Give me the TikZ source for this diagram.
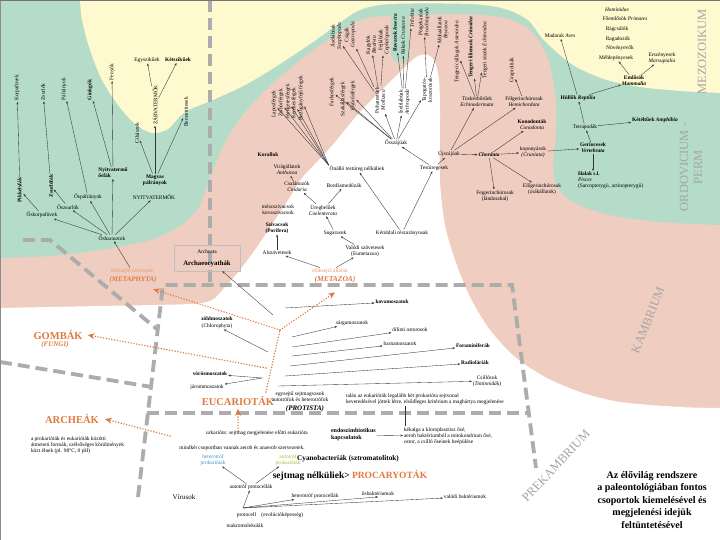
\documentclass[tikz,border=0pt]{standalone}
\usepackage{fontspec}
\setmainfont{Liberation Serif}
\usetikzlibrary{arrows.meta}
\definecolor{pinkc}{RGB}{239,205,192}
\definecolor{greenc}{RGB}{180,220,200}
\definecolor{yellowc}{RGB}{254,249,206}
\definecolor{dgray}{RGB}{172,172,172}
\definecolor{erag}{RGB}{165,165,165}
\definecolor{orangec}{RGB}{222,122,62}
\definecolor{orangel}{RGB}{232,150,105}
\definecolor{bluec}{RGB}{60,150,205}
\definecolor{ygreen}{RGB}{165,190,50}
\begin{document}
\begin{tikzpicture}[x=1pt,y=-1pt,
  lab/.style={font=\fontsize{5.4}{6.1}\selectfont, inner sep=0.8pt, align=center},
  labb/.style={lab, font=\fontsize{5.4}{6.1}\selectfont\bfseries},
  vlab/.style={lab, rotate=90},
  vlabb/.style={labb, rotate=90},
  ar/.style={-{Stealth[length=2.6pt,width=2pt]}, line width=0.35pt, draw=black!80},
  ln/.style={line width=0.35pt, draw=black!80},
  dsh/.style={draw=dgray, line width=3.8pt, dash pattern=on 12pt off 6pt},
  odot/.style={draw=orangec, line width=1.6pt, line cap=round, dash pattern=on 0pt off 2.8pt},
  otip/.style={-{Stealth[length=7pt,width=6pt,inset=2.5pt]}},
  big/.style={font=\fontsize{10.5}{12}\selectfont\bfseries, text=orangec, inner sep=1pt},
  era/.style={font=\fontsize{12.5}{14}\selectfont, text=erag, inner sep=0pt, align=center},
]
\useasboundingbox (0,0) rectangle (720,540);
% ---------- background regions ----------
\fill[pinkc] (0,0) rectangle (720,540);
\fill[greenc] (0,0) -- (720,0) -- plot[smooth] coordinates {(720,225) (660,222) (610,215) (575,203) (558,188) (553,165) (556,135) (556,100) (550,65) (540,42) (525,26) (500,17) (460,14) (420,15) (385,16) (360,20) (330,38) (300,60) (270,86) (245,112) (225,142) (210,178) (198,208) (180,226) (150,240) (100,250) (50,256) (0,258)} -- cycle;
\fill[yellowc] plot[smooth] coordinates {(80,0) (82,20) (90,50) (102,80) (118,105) (135,124) (152,133) (168,129) (185,112) (213,100) (247,84) (280,64) (313,42) (338,24) (360,10) (390,4) (470,4) (505,9) (528,20) (542,38) (560,55) (578,68) (607,80) (640,87) (680,91) (720,93)} -- (720,0) -- cycle;
\fill[white] plot[smooth] coordinates {(0,308) (100,306) (190,304) (212,300) (225,287) (240,270) (257,247) (273,223) (290,197) (302,178) (330,148) (360,112) (390,82) (408,64) (418,56) (428,55) (435,62) (439,80) (440,110) (440,180) (445,225) (455,260) (470,297) (490,330) (515,357) (545,377) (580,392) (620,402) (680,407) (720,408)} -- (720,540) -- (0,540) -- cycle;
\fill[greenc, rounded corners=5pt] (391,6) -- (391,61) -- (409,62) -- (409,6) -- cycle;
% ---------- grey dashed borders ----------
\draw[dsh] (210,0) -- (210,283);
\draw[dsh] (138,497) -- (163,285) -- (512,285) -- (536,468);
\draw[dsh] (147,413) -- (527,413);
\draw[dsh] (23,240) -- (50,240) -- (158,330);
\draw[dsh] (0,362) -- (152,387);
% ---------- era labels ----------
\node[era, rotate=90] (mezo) at (702,52) {MEZOZOIKUM};
\node[era, rotate=90] (ordo) at (691,167) {ORDOVICIUM -\\PERM};
\node[era, rotate=68] (kamb) at (648,320) {KAMBRIUM};
\node[era, rotate=47] (prek) at (556,466) {PREKAMBRIUM};
% ---------- plants ----------
\node[vlab] (korpa) at (17,88) {Korpafüvek};
\node[vlab] (zsurlo) at (43,92) {Zsurlók};
\node[vlab] (pafr) at (64,89) {Páfrányok};
\node[vlabb] (ginkgo) at (90,90) {Ginkgók};
\node[vlab] (fenyo) at (112,72) {Fenyők};
\node[lab] (egysz) at (147,60) {Egyszikűek};
\node[labb] (ketsz) at (178,60) {Kétszikűek};
\node[vlab] (zarv) at (155,105) {ZÁRVATERMŐK};
\node[vlab] (cikasz) at (137,133) {Cikászok};
\node[vlab] (benett) at (186,112) {Bennettitesek};
\node[labb, align=left] (nyosfa) at (113,173) {Nyitvatermő\\ősfák};
\node[labb] (magvas) at (155,180) {Magvas\\páfrányok};
\node[lab] (nyitv) at (154,197) {NYITVATERMŐK};
\node[vlabb] (pikk) at (20,190) {Pikkelyfák};
\node[vlabb] (zsurfa) at (51,186) {Zsurlófák};
\node[lab] (ospafr) at (88,197) {Őspáfrányok};
\node[lab] (oszsurl) at (68,207) {Őszsurlók};
\node[lab] (oskorpa) at (42,215) {Őskorpafüvek};
\node[lab] (oshar) at (112,238) {Ősharasztok};
\node[lab, text=orangel] (tsnov) at (132,271) {többsejtű növények};
\node[font=\fontsize{7}{8}\selectfont\bfseries\itshape, text=orangec, inner sep=0.8pt] (metaph) at (133,280) {(METAPHYTA)};
\draw[ar] (pikk) -- (korpa);
\draw[ar] (zsurfa) -- (zsurlo);
\draw[ar] (ospafr) -- (pafr);
\draw[ar] (nyosfa) -- (ginkgo);
\draw[ar] (nyosfa) -- (fenyo);
\draw[ar] (magvas) -- (cikasz);
\draw[ar] (magvas) -- (zarv);
\draw[ar] (magvas) -- (benett);
\draw[ar] (zarv) -- (egysz);
\draw[ar] (zarv) -- (ketsz);
\draw[ar] (oskorpa) -- (pikk);
\draw[ar] (oszsurl) -- (zsurfa);
\draw[ar] (oshar) -- (oskorpa);
\draw[ar] (oshar) -- (oszsurl);
\draw[ar] (oshar) -- (ospafr);
\draw[ar] (oshar) -- (nyosfa);
\draw[ar] (oshar) -- (nyitv);
\draw[ar] (tsnov) -- (oshar);
% ---------- acoelomates, protostomes ----------
\node[vlab] (lapos) at (274,104) {Laposférgek};
\node[vlab] (zsinor) at (281,103) {Zsinórférgek};
\node[vlab] (hengeres) at (288,101) {Hengeresférgek};
\node[vlab] (kerekes) at (294,103) {Kerekesférgek};
\node[vlab] (buzog) at (301,98) {Buzogányfejű férgek};
\node[lab] (onallo) at (357,169) {Önálló testüreg nélküliek};
\foreach \n in {lapos,zsinor,hengeres,kerekes,buzog} {\draw[ar] (onallo.north west) -- (\n);}
\node[vlab] (farkos) at (332,92) {Farkosférgek};
\node[vlab] (szakall) at (343,99) {Szakállasférgek};
\node[vlab] (gyuru) at (353,96) {Gyűrűsférgek};
\node[vlab] (asolab) at (336,36) {Ásólábúak\\\textit{Scaphopoda}};
\node[vlab] (csiga) at (350,35) {Csigák\\\textit{Gastropoda}};
\node[vlab] (kagylo) at (371,45) {Kagylók\\\textit{Bivalvia}};
\node[vlab] (fejlab) at (384,40) {Fejlábúak\\\textit{Cephalopoda}};
\node[vlabb] (rovar) at (395,33) {Rovarok \textit{Insecta}};
\node[vlab] (rakok) at (403,36) {Rákok \textit{Crustacea}};
\node[vlab] (trilob) at (412,18) {\textit{Trilobita}};
\node[vlab] (porgek) at (424,22) {Pörgekarúak\\\textit{Brachiopoda}};
\node[vlab] (moha) at (443,30) {Mohaállatok\\\textit{Bryozoa}};
\node[vlab] (puhat) at (380,100) {Puhatestűek\\\textit{Mollusca}};
\node[vlab] (izelt) at (404,102) {Ízeltlábúak\\\textit{Arthropoda}};
\node[vlab] (tapog) at (427,90) {Tapogatós-\\koszorúsak};
\node[lab] (osszaj) at (396,143) {Ősszájúak};
\node[lab] (testur) at (434,168) {Testüregesek};
\node[lab] (ujszaj) at (449,154) {Újszájúak};
\node[lab, font=\fontsize{5.4}{6.1}\selectfont\bfseries\itshape] (chord) at (489,155) {Chordata};
\foreach \n in {puhat,izelt,tapog,farkos,szakall,gyuru} {\draw[ar] (osszaj) -- (\n);}
\foreach \n in {asolab,csiga,kagylo,fejlab} {\draw[ar] (puhat) -- (\n);}
\foreach \n in {rovar,rakok,trilob} {\draw[ar] (izelt) -- (\n);}
\foreach \n in {porgek,moha} {\draw[ar] (tapog) -- (\n);}
\draw[ar] (testur) -- (osszaj);
\draw[ar] (testur) -- (ujszaj);
% ---------- deuterostomes ----------
\node[vlab] (tcsill) at (457,52) {Tengeri csillagok \textit{Asteroidea}};
\node[vlabb] (tlil) at (471,47) {Tengeri liliomok \textit{Crinoidea}};
\node[vlab] (tsun) at (485,50) {Tengeri sünök \textit{Echinoidea}};
\node[lab] (tusk) at (477,102) {Tüskésbőrűek\\\textit{Echinodermata}};
\node[vlab] (grapt) at (512,70) {Graptoliták};
\node[lab] (felg) at (524,102) {Félgerinchúrosak\\\textit{Hemichordata}};
\node[lab] (konod) at (532,125) {\textbf{Konodonták}\\\textit{Conodonta}};
\node[lab] (kopony) at (533,152) {koponyások\\\textit{(Craniata)}};
\node[lab] (elog) at (542,189) {Előgerinchúrosak\\(zsákállatok)};
\node[lab] (fejg) at (495,196) {Fejgerinchúrosak\\(lándzsahal)};
\foreach \n in {tcsill,tlil,tsun} {\draw[ar] (tusk) -- (\n);}
\draw[ar] (ujszaj) -- (tusk);
\draw[ar] (ujszaj) -- (chord);
\draw[ar] (ujszaj) -- (felg);
\draw[ar] (felg) -- (grapt);
\foreach \n in {konod,kopony,fejg,elog} {\draw[ar] (chord) -- (\n);}
% ---------- vertebrates ----------
\node[lab] (homin) at (617,10) {\textit{Hominidae}};
\node[lab] (foeml) at (625,19) {Főemlősök \textit{Primates}};
\node[lab] (ragcs) at (617,29) {Rágcsálók};
\node[lab] (ragad) at (618,39) {Ragadozók};
\node[lab] (novev) at (620,48) {Növényevők};
\node[lab] (mehl) at (616,58) {Méhlepényesek};
\node[lab] (ersz) at (662,58) {Erszényesek\\\textit{Marsupialia}};
\node[labb] (emlos) at (634,81) {Emlősök\\\textit{Mammalia}};
\node[lab] (madar) at (560,36) {Madarak \textit{Aves}};
\node[labb] (hullo) at (578,98) {Hüllők \textit{Reptilia}};
\node[lab] (tetra) at (585,127) {Tetrapodák};
\node[labb] (ketelt) at (655,120) {Kétéltűek \textit{Amphibia}};
\node[labb] (gerinc) at (593,148) {Gerincesek\\\textit{Vertebrata}};
\node[lab, align=left, anchor=north west] (halak) at (577,171) {\textbf{Halak s.l.}\\\textit{Pisces}\\(Sarcopterygii, actinopterygii)};
\draw[ar] (kopony) -- (gerinc);
\draw[ar] (gerinc) -- (tetra);
\draw[ar] (gerinc) -- (halak.north -| gerinc);
\draw[ar] (tetra) -- (hullo);
\draw[ar] (tetra) -- (ketelt);
\draw[ar] (hullo) -- (madar);
\draw[ar] (hullo) -- (emlos);
\draw[ar] (emlos) -- (mehl);
\draw[ar] (emlos) -- (ersz);
% ---------- cnidaria, sponges ----------
\node[labb] (korall) at (268,155) {Korallok};
\node[lab] (virag) at (287,170) {Virágállatok\\\textit{Anthozoa}};
\node[lab] (csalan) at (297,187) {Csalánozók\\\textit{Cnidaria}};
\node[lab] (bordas) at (344,186) {Bordásmedúzák};
\node[lab] (ureg) at (323,210) {Üregbelűek\\\textit{Coelenterata}};
\node[lab] (meszsz) at (278,210) {mészszivacsok\\kovaszivacsok};
\node[labb] (sziv) at (277,228) {Szivacsok\\(Porifera)};
\node[lab] (sugar) at (335,233) {Sugarasok};
\node[lab] (alszov) at (277,253) {Alszövetesek};
\node[lab] (valodi) at (365,251) {Valódi szövetesek\\(Eumetazoa)};
\node[lab] (ketold) at (402,233) {Kétoldali részarányosak};
\node[lab, text=orangel] (tsall) at (330,271) {többsejtű állatok};
\node[font=\fontsize{7.5}{8}\selectfont\bfseries\itshape, text=orangec, inner sep=0.8pt] (metaz) at (335,280) {(METAZOA)};
\node[draw=black!25, line width=0.4pt, minimum width=66pt, minimum height=26pt, inner sep=1pt, align=center] (archbox) at (207,258) {{\fontsize{5.4}{6.5}\selectfont Archeata}\\{\fontsize{6.8}{8}\selectfont\bfseries Archaeocyathák}};
\draw[ar] (ureg) -- (csalan);
\draw[ar] (ureg) -- (bordas);
\draw[ar] (sugar) -- (ureg);
\draw[ar] (csalan) -- (virag);
\draw[ar] (alszov) -- (sziv);
\draw[ar] (tsall) -- (alszov);
\draw[ar] (tsall) -- (valodi);
\draw[ar] (valodi) -- (sugar);
\draw[ar] (ketold) -- (onallo);
\draw[ar] (ketold) -- (testur);
% ---------- protists ----------
\node[labb] (zold) at (217,319) {zöldmoszatok};
\node[lab] (zoldl) at (217,326) {(Chlorophyta)};
\node[labb] (kova) at (392,302) {kovamoszatok};
\node[lab] (sarga) at (352,323) {sárgamoszatok};
\node[lab] (dil) at (410,330) {dilinti ostorosok};
\node[lab] (barna) at (400,344) {barnamoszatok};
\node[labb] (foram) at (473,346) {Foraminiferák};
\node[labb] (radio) at (475,363) {Radioláriák};
\node[lab] (csill) at (487,381) {Csillósok\\\textit{(Tintinnidák)}};
\node[labb] (voros) at (210,374) {vörösmoszatok};
\node[lab] (jarom) at (207,387) {járommoszatok};
\coordinate (aj) at (273,315);
\coordinate (pz) at (268,352);
\coordinate (pj) at (262,378);
\draw[ar] (aj) -- (archbox);
\draw[ar] (pz) -- (zoldl);
\draw[ar] (pj) -- (voros);
\draw[ar] (pj) -- (jarom);
\coordinate (s1) at (285,308); \coordinate (s2) at (292,337); \coordinate (s3) at (292,347);
\coordinate (s4) at (292,356); \coordinate (s5) at (290,366); \coordinate (s6) at (285,376); \coordinate (s7) at (278,386);
\draw[ar] (s1) -- (kova);
\draw[ar] (s2) -- (sarga);
\draw[ar] (s3) -- (dil);
\draw[ar] (s4) -- (barna);
\draw[ar] (s5) -- (foram);
\draw[ar] (s6) -- (radio);
\draw[ar] (s7) -- (csill);
% ---------- big group labels ----------
\node[big] (gombak) at (58,335) {GOMBÁK};
\node[font=\fontsize{7}{8}\selectfont\bfseries\itshape, text=orangec, inner sep=0.8pt] (fungi) at (55,345) {(FUNGI)};
\node[big] (eucar) at (238,401) {EUCARIOTÁK};
\node[big] (archeak) at (72,419) {ARCHEÁK};
\node[lab, align=left, anchor=west] (archtxt) at (30,445) {a prokarióták és eukarióták közötti\\átmeneti formák, szélsőséges körülmények\\közt élnek (pl. 98°C, 0 pH)};
\node[lab] (egysejt) at (300,397) {egysejtű sejtmagvasok\\autotrófok és heterotrófok};
\node[font=\fontsize{7}{8}\selectfont\bfseries\itshape, inner sep=0.8pt] (protista) at (305,409) {(PROTISTA)};
\node[lab, align=left, anchor=west] (tehat) at (345,399) {talán az eukarióták legalább két prokarióta sejtvonal\\keveredésével jöttek létre, elsődleges kritérium a maghártya megjelenése};
% ---------- orange dotted arrows ----------
\coordinate (oj) at (280,330);
\coordinate (et) at (266,392);
\coordinate (gj) at (266,368);
\coordinate (eb) at (238,431);
\coordinate (ab) at (170,436);
\draw[odot] (et) -- (oj);
\draw[odot, otip] (oj) -- ([xshift=-4pt,yshift=-5pt]metaph.south east);
\draw[odot, otip] (oj) -- ([yshift=-8pt]metaz.south);
\draw[odot, otip] (gj) -- ([xshift=4pt]gombak.east);
\draw[odot, otip] (eb) -- ([yshift=-2pt]eucar.south);
\draw[odot, otip] (ab) -- ([xshift=5pt]archeak.east);
% ---------- prokaryotes ----------
\node[lab] (urkar) at (257,433) {urkarióta: sejtmag megjelenése előtti eukarióta};
\node[lab] (mindket) at (242,448) {mindkét csoportban vannak aerob és anaerob szervezetek.};
\node[lab, text=bluec] (heterop) at (213,460) {heterotróf\\prokarióták};
\node[lab, text=ygreen] (autop) at (288,460) {autotróf\\prokarióták};
\node[labb, font=\fontsize{6}{7}\selectfont\bfseries, align=left, anchor=west] (endo) at (330,435) {endoszimbiotikus\\kapcsolatok};
\node[lab, align=left, anchor=west] (lehet) at (403,436) {kékalga a kloroplasztisz ősé,\\aerob baktériumból a mitokondrium ősé,\\ostor, a csilló őseinek beépülése};
\node[font=\fontsize{7.3}{8}\selectfont\bfseries, inner sep=0.8pt] (cyano) at (348,459) {Cyanobacteriák (sztromatolitok)};
\node[font=\fontsize{9.5}{11}\selectfont\bfseries, inner sep=0.8pt] (procar) at (350,475) {sejtmag nélküliek> \textcolor{orangec}{PROCARYOTÁK}};
\node[lab] (autoproto) at (251,487) {autotróf protocellák};
\node[lab] (heteroproto) at (315,496) {heterotróf protocellák};
\node[lab] (osbakt) at (378,494) {ősbaktériumok};
\node[lab] (valbakt) at (465,497) {valódi baktériumok};
\node[lab, font=\fontsize{7}{8}\selectfont] (virus) at (184,497) {Vírusok};
\node[lab] (protocell) at (270,515) {protocell\quad(evolúcióképesség)};
\node[lab] (makro) at (245,526) {makromolekulák};
\coordinate (pc) at (243,508);
\draw[ar] (autoproto) -- (heterop);
\draw[ar] (autoproto) -- (autop);
\draw[ar] (pc) -- (autoproto);
\draw[ar] (pc) -- (heteroproto);
\draw[ar] (pc) -- (osbakt.south);
\draw[ar] (pc) -- (valbakt);
\draw[ar] (endo) -- (lehet);
\draw[ln] ([xshift=2pt]lehet.north west) -- ([xshift=2pt]lehet.north west |- tehat.south);
% ---------- title ----------
\node[font=\fontsize{10}{12.5}\selectfont\bfseries, align=center, inner sep=0] (title) at (652,500) {Az élővilág rendszere\\a paleontológiában fontos\\csoportok kiemelésével és\\megjelenési idejük\\feltüntetésével};
% ---------- frame ----------
\draw[black!45, line width=0.8pt] (0,0) rectangle (720,540);
\draw[black!55, line width=1.6pt] (0,0) -- (720,0);
\end{tikzpicture}
\end{document}
